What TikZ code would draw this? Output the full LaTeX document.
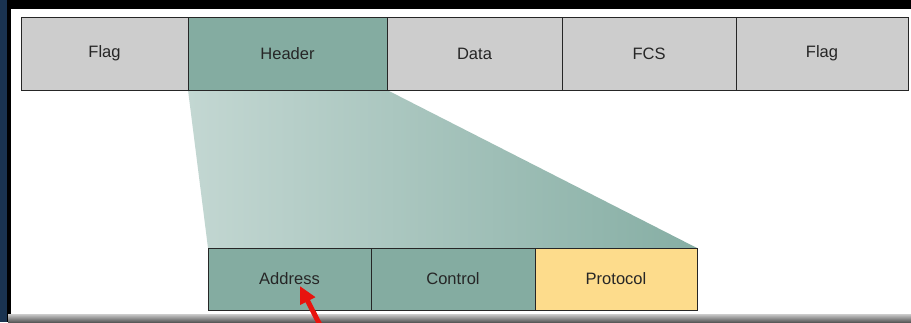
\documentclass[tikz,border=0pt]{standalone}
\usepackage{fontspec}
\setmainfont{Liberation Sans}
\usetikzlibrary{arrows.meta,positioning,backgrounds}
\definecolor{frameNavy}{HTML}{1A3350}
\definecolor{fieldGray}{HTML}{CDCDCD}
\definecolor{fieldTeal}{HTML}{84ACA1}
\definecolor{fieldGold}{HTML}{FDDC8C}
\definecolor{fanLight}{HTML}{C3D7D2}
\definecolor{fanDark}{HTML}{86AEA4}
\definecolor{labelInk}{HTML}{262626}
\definecolor{pointerRed}{HTML}{E8140E}

\tikzset{
  field/.style={draw=black!85, line width=1pt, outer sep=0pt, inner sep=0pt,
    text=labelInk, font=\fontsize{16.5}{19}\selectfont},
  topfield/.style={field, minimum height=73pt},
  subfield/.style={field, minimum height=62pt},
  pointer/.style={pointerRed, line width=5pt,
    -{Triangle[length=17pt,width=16pt]}}
}

\begin{document}
\begin{tikzpicture}[x=1pt,y=-1pt]
    \useasboundingbox (0,0) rectangle (911,322);
    % window frame
    \begin{scope}[on background layer]
      \fill[black] (0,0) rectangle (911,322);
      \fill[frameNavy] (0,0) rectangle (7,322);
      \shade[top color=black!20, bottom color=black!65] (8,314) rectangle (911,322);
      \fill[white] (11,9) rectangle (911,314);
    \end{scope}

    % frame fields
    \node[topfield, fill=fieldGray, minimum width=167pt] (flagL) at (104.5,53.5) {Flag};
    \node[topfield, fill=fieldTeal, minimum width=199pt, right=0pt of flagL] (header) {Header};
    \node[topfield, fill=fieldGray, minimum width=175pt, right=0pt of header] (data) {Data};
    \node[topfield, fill=fieldGray, minimum width=174pt, right=0pt of data] (fcs) {FCS};
    \node[topfield, fill=fieldGray, minimum width=172pt, right=0pt of fcs] (flagR) {Flag};

    % header fields
    \node[subfield, fill=fieldTeal, minimum width=163pt] (addr) at (289.5,279) {Address};
    \node[subfield, fill=fieldTeal, minimum width=164pt, right=0pt of addr] (ctrl) {Control};
    \node[subfield, fill=fieldGold, minimum width=162pt, right=0pt of ctrl] (proto) {Protocol};

    % zoom fan from the header down to its fields
    \begin{scope}[on background layer]
      \shade[shading angle=-35, left color=fanLight, right color=fanDark]
        (header.south west) -- (header.south east) -- (proto.north east) -- (addr.north west) -- cycle;
    \end{scope}

    \coordinate (tail) at (320,325);
    \coordinate (tip) at (300,286);
    \draw[pointer] (tail) -- (tip);
  \end{tikzpicture}
\end{document}
